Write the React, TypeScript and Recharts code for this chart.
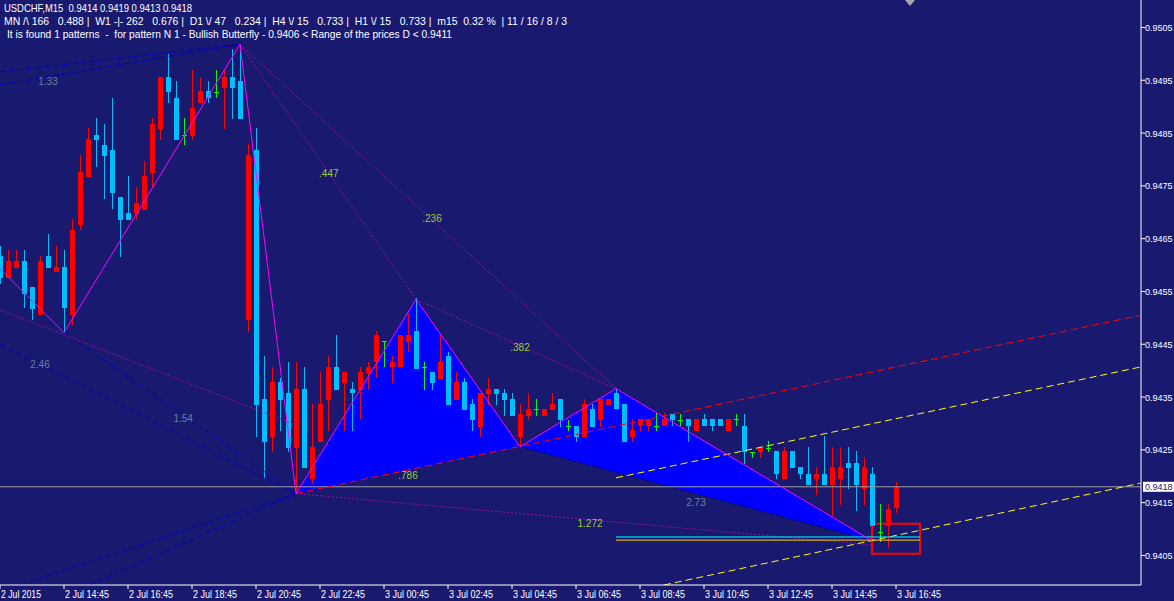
import React from "react";
import {
  ComposedChart,
  Bar,
  Line,
  Area,
  XAxis,
  YAxis,
  ReferenceLine,
  ReferenceArea,
  ReferenceDot,
} from "recharts";

const BG = "#191970";
const BULL = "#ff0000";
const BEAR = "#00bfff";
const DOJI = "#00ff00";
const FONT = "'Liberation Sans', Arial, sans-serif";

// USDCHF M15 candles, one every 15 minutes, index 0 = 2 Jul 12:45
const opens = [
  0.94618, 0.94575, 0.94595, 0.94607, 0.94558, 0.94505, 0.94618, 0.94586, 0.94597, 0.94505,
  0.94675, 0.94766, 0.94847, 0.94828, 0.94817, 0.94728, 0.94698, 0.94696, 0.94705, 0.94775,
  0.94857, 0.94957, 0.94917, 0.94847, 0.94845, 0.94906, 0.94929, 0.94927, 0.94936, 0.94957,
  0.94948, 0.94495, 0.94817, 0.94347, 0.94275, 0.94378, 0.94357, 0.94254, 0.94366, 0.94194,
  0.94264, 0.94345, 0.94406, 0.94376, 0.94366, 0.94364, 0.94395, 0.94416, 0.94457, 0.94406,
  0.94406, 0.94455, 0.94476, 0.94406, 0.94397, 0.94385, 0.94427, 0.94345, 0.94378, 0.94336,
  0.94294, 0.94355, 0.94366, 0.94357, 0.94347, 0.94275, 0.94315, 0.94327, 0.94315, 0.94325,
  0.94347, 0.94296, 0.94296, 0.94275, 0.94327, 0.94306, 0.94334, 0.94357, 0.94336, 0.94275,
  0.94296, 0.94296, 0.94296, 0.94296, 0.94317, 0.94306, 0.94308, 0.94285, 0.94308, 0.94308,
  0.94308, 0.94285, 0.94308, 0.94296, 0.94245, 0.94245, 0.94254, 0.94247, 0.94194, 0.94247,
  0.94217, 0.94205, 0.94194, 0.94205, 0.94184, 0.94194, 0.94226, 0.94226, 0.94175, 0.94205,
  0.94095, 0.94105, 0.9414,
];
const highs = [
  0.94637, 0.94628, 0.94628, 0.94628, 0.94558, 0.94618, 0.94658, 0.94637, 0.94628, 0.94688,
  0.94808, 0.94859, 0.94878, 0.94868, 0.94917, 0.94728, 0.94768, 0.94747, 0.94798, 0.94878,
  0.94957, 0.94999, 0.94948, 0.94878, 0.94969, 0.94957, 0.94948, 0.94969, 0.94969, 0.9501,
  0.95018, 0.9483, 0.94859, 0.94427, 0.94406, 0.94387, 0.94417, 0.94417, 0.94406, 0.94336,
  0.94397, 0.94427, 0.94467, 0.94397, 0.94378, 0.94406, 0.94417, 0.94476, 0.94457, 0.94427,
  0.94467, 0.94508, 0.94537, 0.94417, 0.94397, 0.94467, 0.94436, 0.94397, 0.94387, 0.94347,
  0.94357, 0.94387, 0.94366, 0.94366, 0.94357, 0.94336, 0.94357, 0.94347, 0.94327, 0.94357,
  0.94347, 0.94306, 0.94296, 0.94347, 0.94336, 0.94347, 0.94347, 0.94366, 0.94336, 0.94308,
  0.94308, 0.94308, 0.94319, 0.94319, 0.94317, 0.94317, 0.94308, 0.94308, 0.94317, 0.94308,
  0.94308, 0.94308, 0.94317, 0.94317, 0.94245, 0.94256, 0.94266, 0.94247, 0.94256, 0.94247,
  0.94217, 0.94256, 0.94217, 0.94277, 0.94256, 0.94256, 0.94256, 0.94247, 0.94236, 0.94217,
  0.94147, 0.94147, 0.9419,
];
const lows = [
  0.94565, 0.94575, 0.94595, 0.94518, 0.94495, 0.94505, 0.94595, 0.94586, 0.94472, 0.94486,
  0.94666, 0.94766, 0.94785, 0.94726, 0.94707, 0.94616, 0.94686, 0.94686, 0.94705, 0.94747,
  0.94836, 0.94906, 0.94836, 0.94827, 0.94836, 0.94906, 0.94906, 0.94917, 0.94857, 0.94876,
  0.94876, 0.94474, 0.94275, 0.94196, 0.94245, 0.94285, 0.94245, 0.94167, 0.94215, 0.94186,
  0.94264, 0.94285, 0.94364, 0.94285, 0.94285, 0.94308, 0.94364, 0.94387, 0.94406, 0.94376,
  0.94406, 0.94436, 0.94404, 0.94364, 0.94364, 0.94385, 0.94334, 0.94345, 0.94325, 0.94285,
  0.94275, 0.94334, 0.94334, 0.94315, 0.94315, 0.94256, 0.94306, 0.94315, 0.94315, 0.94325,
  0.94294, 0.94285, 0.94264, 0.94275, 0.94294, 0.94294, 0.94334, 0.94327, 0.94264, 0.94264,
  0.94285, 0.94285, 0.94285, 0.94296, 0.94296, 0.94296, 0.94264, 0.94285, 0.94296, 0.94285,
  0.94296, 0.94285, 0.94296, 0.94224, 0.94234, 0.94234, 0.94245, 0.94194, 0.94194, 0.94215,
  0.94194, 0.94184, 0.94164, 0.94184, 0.94124, 0.94145, 0.94175, 0.94135, 0.94145, 0.94105,
  0.94075, 0.94065, 0.9413,
];
const closes = [
  0.94575, 0.94607, 0.94607, 0.94546, 0.94516, 0.94607, 0.94595, 0.94597, 0.94518, 0.94667,
  0.94777, 0.94838, 0.94836, 0.94806, 0.94736, 0.94686, 0.94686, 0.94717, 0.94768, 0.94868,
  0.94957, 0.94927, 0.94836, 0.94847, 0.94898, 0.94929, 0.94917, 0.94927, 0.94957, 0.94936,
  0.94876, 0.94808, 0.94334, 0.94264, 0.94378, 0.94345, 0.94254, 0.94366, 0.94215, 0.94256,
  0.94336, 0.94406, 0.94364, 0.94397, 0.94357, 0.94397, 0.94406, 0.94467, 0.94457, 0.94417,
  0.94467, 0.94467, 0.94404, 0.94406, 0.94376, 0.94417, 0.94334, 0.94378, 0.94325, 0.94306,
  0.94357, 0.94366, 0.94355, 0.94345, 0.94315, 0.94317, 0.94327, 0.94327, 0.94327, 0.94336,
  0.94306, 0.94296, 0.94275, 0.94336, 0.94294, 0.94347, 0.94347, 0.94327, 0.94264, 0.94287,
  0.94308, 0.94308, 0.94296, 0.94308, 0.94306, 0.94306, 0.94296, 0.94308, 0.94296, 0.94296,
  0.94296, 0.94308, 0.94308, 0.94245, 0.94245, 0.94256, 0.94254, 0.94205, 0.94247, 0.94215,
  0.94205, 0.94184, 0.94205, 0.94184, 0.94217, 0.94217, 0.94215, 0.94184, 0.94217, 0.94105,
  0.94095, 0.94137, 0.9418,
];

const timeTicks = [0, 8, 16, 24, 32, 40, 48, 56, 64, 72, 80, 88, 96, 104, 112];
const timeLabels = [
  "2 Jul 2015", "2 Jul 14:45", "2 Jul 16:45", "2 Jul 18:45", "2 Jul 20:45",
  "2 Jul 22:45", "3 Jul 00:45", "3 Jul 02:45", "3 Jul 04:45", "3 Jul 06:45",
  "3 Jul 08:45", "3 Jul 10:45", "3 Jul 12:45", "3 Jul 14:45", "3 Jul 16:45",
];
const priceTicks = [
  0.9405, 0.9415, 0.9425, 0.9435, 0.9445, 0.9455, 0.9465, 0.9475, 0.9485, 0.9495, 0.9505,
];
const bid = 0.9418;

// zigzag / butterfly points X A B C D (last five)
const zigIdx = [0, 8, 30, 37, 52, 65, 77, 109];
const zigPrice = [0.94593, 0.94472, 0.95018, 0.94167, 0.94535, 0.94256, 0.94366, 0.94078];

// trend / fib lines [[i1, p1], [i2, p2]]
const redChannel = [[37, 0.94167], [142.6, 0.94505]];
const yellowChannels = [
  [[77, 0.94197], [142.6, 0.94407]],
  [[83, 0.93994], [142.6, 0.94187]],
];
const purpleLines = [
  [[30, 0.95018], [52, 0.94535]],
  [[30, 0.95018], [77, 0.94366]],
  [[52, 0.94535], [77, 0.94366]],
  [[37, 0.94167], [109, 0.9407]],
  [[0, 0.94515], [37, 0.94297]],
];
const blueLines = [
  [[0, 0.94966], [30, 0.95018]],
  [[0, 0.94941], [30, 0.95018]],
  [[8, 0.94472], [37, 0.94167]],
  [[0, 0.94449], [37, 0.94167]],
  [[2.5, 0.93994], [37, 0.94167]],
  [[11.25, 0.93994], [37, 0.94167]],
];
const navyLines = [[[65, 0.94256], [109, 0.94078]]];

// target zone at D
const zoneStart = 77;
const zoneEnd = 115;
const cyanLevel = 0.94085;
const yellowLevel = 0.94079;
const boxLow = 0.94053;
const boxHigh = 0.9411;

const fibText = [".447", ".236", ".382", ".786", "1.272"];
const fibIdx = [41.1, 54, 65, 51, 73.75];
const fibPrice = [0.94774, 0.94689, 0.94443, 0.94202, 0.9411];
const grayText = ["1.33", "2.46", "1.54", "2.73"];
const grayIdx = [6, 5, 22.9, 87];
const grayPrice = [0.94947, 0.94411, 0.9431, 0.94151];

const candles = opens.map((o, i) => ({ i, o, h: highs[i], l: lows[i], c: closes[i] }));
const zigzag = zigIdx.map((i, k) => ({ i, v: zigPrice[k] }));

function triangle(a: number[], b: number[], c: number[]) {
  const t = (b[0] - a[0]) / (c[0] - a[0]);
  const base = a[1] + (c[1] - a[1]) * t;
  return [
    { i: a[0], r: [a[1], a[1]] },
    { i: b[0], r: [Math.min(base, b[1]), Math.max(base, b[1])] },
    { i: c[0], r: [c[1], c[1]] },
  ];
}
const pt = (k: number) => [zigIdx[k], zigPrice[k]];
const tri1 = triangle(pt(3), pt(4), pt(5));
const tri2 = triangle(pt(5), pt(6), pt(7));

const Candle = (props: any) => {
  const { x, y, width, height, payload } = props;
  if (!payload) return null;
  const { o, h, l, c } = payload;
  const span = h - l || 1e-9;
  const py = (v: number) => y + ((h - v) / span) * height;
  const left = Math.round(x + 0.5);
  const w = Math.round(width);
  const cx = left + Math.floor(w / 2);
  const color = c > o ? BULL : c < o ? BEAR : DOJI;
  const top = Math.round(py(Math.max(o, c)));
  const bot = Math.round(py(Math.min(o, c)));
  const wt = Math.round(y);
  const wb = Math.round(y + height);
  return (
    <g>
      <rect x={cx} y={wt} width={1} height={Math.max(1, wb - wt)} fill={color} />
      <rect x={left} y={top} width={w} height={Math.max(1, bot - top)} fill={color} />
    </g>
  );
};

const TimeTick = (props: any) => {
  const { x, y, payload } = props;
  const label = timeLabels[timeTicks.indexOf(payload.value)] ?? "";
  return (
    <text
      x={x + 1}
      y={y + 7}
      fill="#ffffff"
      fontSize={10}
      fontFamily={FONT}
      textLength={label.length * 4}
      lengthAdjust="spacingAndGlyphs"
    >
      {label}
    </text>
  );
};

const PriceTick = (props: any) => {
  const { x, y, payload } = props;
  return (
    <text x={x - 2} y={y + 3.5} fill="#ffffff" fontSize={9} fontFamily={FONT}>
      {Number(payload.value).toFixed(4)}
    </text>
  );
};

const BidLabel = (props: any) => {
  const vb = props.viewBox || {};
  const x = (vb.x || 0) + (vb.width || 0);
  const y = vb.y || 0;
  return (
    <g>
      <rect x={x + 2} y={y - 5} width={31} height={10} fill="#ffffff" />
      <text x={x + 4} y={y + 3.5} fill={BG} fontSize={9} fontFamily={FONT}>
        {bid.toFixed(4)}
      </text>
    </g>
  );
};

const textShape = (text: string, color: string) => (p: any) => (
  <text
    x={p.cx}
    y={p.cy + 3.5}
    textAnchor="middle"
    fill={color}
    fontSize={10}
    fontFamily={FONT}
  >
    {text}
  </text>
);

const seg = (s: number[][]) => [
  { x: s[0][0], y: s[0][1] },
  { x: s[1][0], y: s[1][1] },
];

const header1 = "USDCHF,M15  0.9414 0.9419 0.9413 0.9418";
const header2 =
  "MN /\\ 166   0.488 |  W1 -|- 262   0.676 |  D1 \\/ 47   0.234 |  H4 \\/ 15   0.733 |  H1 \\/ 15   0.733 |  m15  0.32 %  | 11 / 16 / 8 / 3";
const header3 =
  "It is found 1 patterns  -  for pattern N 1 - Bullish Butterfly - 0.9406 < Range of the prices D < 0.9411";

export default function App() {
  return (
    <div
      style={{
        position: "absolute",
        left: 0,
        top: 0,
        width: 1174,
        height: 601,
        background: BG,
        overflow: "hidden",
      }}
    >
      <ComposedChart
        width={1174}
        height={601}
        data={candles}
        margin={{ top: 0, right: 0, bottom: 0, left: 0 }}
      >
        <XAxis
          dataKey="i"
          type="number"
          domain={[0, 142.625]}
          allowDataOverflow
          ticks={timeTicks}
          interval={0}
          height={16}
          stroke="#ffffff"
          tickSize={4}
          tick={<TimeTick />}
        />
        <YAxis
          orientation="right"
          type="number"
          domain={[0.93994, 0.95102]}
          allowDataOverflow
          ticks={priceTicks}
          interval={0}
          width={33}
          stroke="#ffffff"
          tickSize={4}
          tick={<PriceTick />}
        />
        <Area
          data={tri1}
          dataKey="r"
          type="linear"
          stroke="none"
          fill="#0000ff"
          fillOpacity={1}
          dot={false}
          activeDot={false}
          isAnimationActive={false}
        />
        <Area
          data={tri2}
          dataKey="r"
          type="linear"
          stroke="none"
          fill="#0000ff"
          fillOpacity={1}
          dot={false}
          activeDot={false}
          isAnimationActive={false}
        />
        <Bar
          dataKey={(d: any) => [d.l, d.h]}
          barSize={5}
          shape={<Candle />}
          activeBar={false}
          isAnimationActive={false}
        />
        {blueLines.map((s, k) => (
          <ReferenceLine key={"b" + k} segment={seg(s)} stroke="#0000c0" strokeDasharray="6 3" ifOverflow="hidden" />
        ))}
        {purpleLines.map((s, k) => (
          <ReferenceLine key={"p" + k} segment={seg(s)} stroke="#9b109b" strokeDasharray="2 2" ifOverflow="hidden" />
        ))}
        {navyLines.map((s, k) => (
          <ReferenceLine key={"n" + k} segment={seg(s)} stroke="#000080" strokeDasharray="3 2" ifOverflow="hidden" />
        ))}
        <ReferenceLine y={bid} stroke="#a0a0a0" label={BidLabel} />
        <ReferenceLine segment={seg(redChannel)} stroke="#ff0000" strokeDasharray="7 4" ifOverflow="hidden" />
        {yellowChannels.map((s, k) => (
          <ReferenceLine key={"y" + k} segment={seg(s)} stroke="#ffff00" strokeDasharray="7 4" ifOverflow="hidden" />
        ))}
        <ReferenceLine segment={[{ x: zoneStart, y: cyanLevel }, { x: zoneEnd, y: cyanLevel }]} stroke="#00ffff" ifOverflow="hidden" />
        <ReferenceLine segment={[{ x: zoneStart, y: yellowLevel }, { x: zoneEnd, y: yellowLevel }]} stroke="#ffd700" ifOverflow="hidden" />
        <ReferenceArea
          x1={109}
          x2={zoneEnd}
          y1={boxLow}
          y2={boxHigh}
          fill="none"
          fillOpacity={0}
          stroke="#ff0000"
          strokeWidth={2}
          ifOverflow="hidden"
        />
        <Line
          data={zigzag}
          dataKey="v"
          type="linear"
          stroke="#ff00ff"
          strokeWidth={1}
          dot={false}
          activeDot={false}
          isAnimationActive={false}
        />
        {fibText.map((t, k) => (
          <ReferenceDot key={"f" + k} x={fibIdx[k]} y={fibPrice[k]} r={1} shape={textShape(t, "#9acd32")} />
        ))}
        {grayText.map((t, k) => (
          <ReferenceDot key={"g" + k} x={grayIdx[k]} y={grayPrice[k]} r={1} shape={textShape(t, "#708090")} />
        ))}
      </ComposedChart>
      <svg
        width={1174}
        height={601}
        style={{ position: "absolute", left: 0, top: 0, pointerEvents: "none" }}
      >
        <text x={4} y={12} fill="#ffffff" fontSize={11} fontFamily={FONT} textLength={188} lengthAdjust="spacingAndGlyphs" style={{ whiteSpace: "pre" }}>
          {header1}
        </text>
        <text x={4} y={25} fill="#ffffff" fontSize={11} fontFamily={FONT} textLength={563} lengthAdjust="spacingAndGlyphs" style={{ whiteSpace: "pre" }}>
          {header2}
        </text>
        <text x={7} y={38} fill="#ffffff" fontSize={11} fontFamily={FONT} textLength={445} lengthAdjust="spacingAndGlyphs" style={{ whiteSpace: "pre" }}>
          {header3}
        </text>
        <polygon points="905,0 915,0 910,6" fill="#a9a9a9" />
      </svg>
    </div>
  );
}
